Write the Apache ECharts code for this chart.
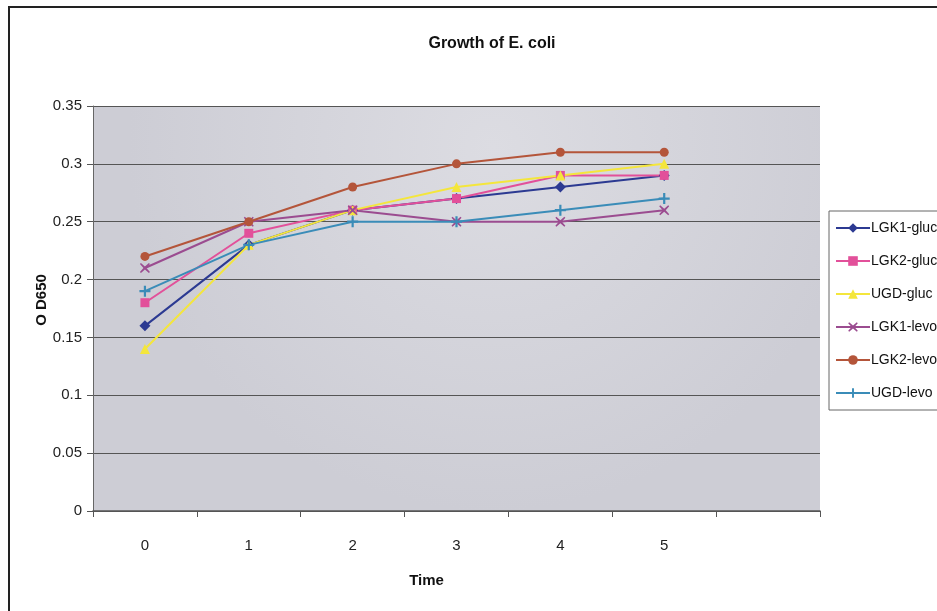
<!DOCTYPE html>
<html>
<head>
<meta charset="utf-8">
<script src="https://cdn.jsdelivr.net/npm/echarts@6/dist/echarts.min.js"></script>
<style>
html, body { margin: 0; padding: 0; background: #fff; }
#chart { width: 937px; height: 611px; }
</style>
</head>
<body>
<div id="chart"></div>
<script>
// categories of the time axis (last slot is empty, like the original)
var times = ['0', '1', '2', '3', '4', '5', ''];
var yTicks = [0, 0.35, 0.05];   // min, max, step

var lgk1Gluc = [0.16, 0.23, 0.26, 0.27, 0.28, 0.29];
var lgk2Gluc = [0.18, 0.24, 0.26, 0.27, 0.29, 0.29];
var ugdGluc  = [0.14, 0.23, 0.26, 0.28, 0.29, 0.30];
var lgk1Levo = [0.21, 0.25, 0.26, 0.25, 0.25, 0.26];
var lgk2Levo = [0.22, 0.25, 0.28, 0.30, 0.31, 0.31];
var ugdLevo  = [0.19, 0.23, 0.25, 0.25, 0.26, 0.27];

var font = '"Liberation Sans Narrow", "Liberation Sans", Arial, sans-serif';

var plusMark = 'path://M4,0 L6,0 L6,4 L10,4 L10,6 L6,6 L6,10 L4,10 L4,6 L0,6 L0,4 L4,4 Z';
var starMark = 'path://M1,0 L5,3.5 L9,0 L10,1 L6.5,5 L10,9 L9,10 L5,6.5 L1,10 L0,9 L3.5,5 L0,1 Z';

function mkSeries(name, data, color, symbol, size) {
    return {
        name: name,
        type: 'line',
        data: data,
        symbol: symbol,
        symbolSize: size,
        showAllSymbol: true,
        lineStyle: { color: color, width: 2 },
        itemStyle: { color: color },
        animation: false
    };
}

var option = {
    title: {
        text: 'Growth of E. coli',
        left: 487,
        textAlign: 'center',
        top: 31,
        textStyle: { fontFamily: font, fontSize: 16, fontWeight: 'bold', color: '#111' }
    },
    legend: {
        orient: 'vertical',
        left: 829,
        top: 211,
        itemWidth: 34,
        itemHeight: 12,
        itemGap: 19,
        padding: [10, 20, 10, 6],
        backgroundColor: '#fff',
        borderColor: '#666',
        borderWidth: 1,
        borderRadius: 0,
        textStyle: { fontFamily: font, fontSize: 14, color: '#111', padding: [0, 0, 0, -4] },
        data: ['LGK1-gluc', 'LGK2-gluc', 'UGD-gluc', 'LGK1-levo', 'LGK2-levo', 'UGD-levo']
    },
    grid: {
        left: 93,
        right: 117,
        top: 106,
        bottom: 100,
        show: true,
        borderWidth: 0,
        backgroundColor: {
            type: 'radial', x: 0.55, y: 0.1, r: 0.9,
            colorStops: [{ offset: 0, color: '#dcdce2' }, { offset: 1, color: '#cdcdd5' }]
        }
    },
    xAxis: {
        type: 'category',
        data: times,
        boundaryGap: true,
        name: 'Time',
        nameLocation: 'middle',
        nameGap: 62,
        nameTextStyle: { fontFamily: font, fontSize: 15, fontWeight: 'bold', color: '#111', padding: [0, 60, 0, 0] },
        axisLine: { lineStyle: { color: '#555', width: 1.5 } },
        axisTick: { show: true, length: 6, lineStyle: { color: '#555' } },
        axisLabel: { fontFamily: font, fontSize: 15, color: '#222', margin: 27, interval: 0 },
        splitLine: { show: false }
    },
    yAxis: {
        type: 'value',
        min: yTicks[0],
        max: yTicks[1],
        interval: yTicks[2],
        axisLine: { show: true, lineStyle: { color: '#666', width: 1 } },
        axisTick: { show: true, length: 6, lineStyle: { color: '#555' } },
        axisLabel: { fontFamily: font, fontSize: 15, color: '#222', margin: 11 },
        splitLine: { show: true, lineStyle: { color: '#555', width: 1.2 } }
    },
    graphic: [{
        type: 'polyline',
        shape: { points: [[9, 611], [9, 7], [937, 7]] },
        style: { stroke: '#222', lineWidth: 2, fill: null },
        silent: true
    }, {
        // y axis title
        type: 'text',
        x: 42,
        y: 300,
        rotation: Math.PI / 2,
        style: {
            text: 'O D650',
            font: 'bold 15px ' + font,
            fill: '#111',
            align: 'center',
            verticalAlign: 'middle'
        },
        silent: true
    }],
    series: [
        mkSeries('LGK1-gluc', lgk1Gluc, '#2c3a92', 'diamond', 11),
        mkSeries('LGK2-gluc', lgk2Gluc, '#e2509a', 'rect', 9),
        mkSeries('UGD-gluc', ugdGluc, '#f4e63c', 'triangle', 10),
        mkSeries('LGK1-levo', lgk1Levo, '#9b4c90', starMark, 10),
        mkSeries('LGK2-levo', lgk2Levo, '#b4553a', 'circle', 9),
        mkSeries('UGD-levo', ugdLevo, '#3a8cb8', plusMark, 11)
    ]
};

var chart = echarts.init(document.getElementById('chart'));
chart.setOption(option, true);
</script>
</body>
</html>
